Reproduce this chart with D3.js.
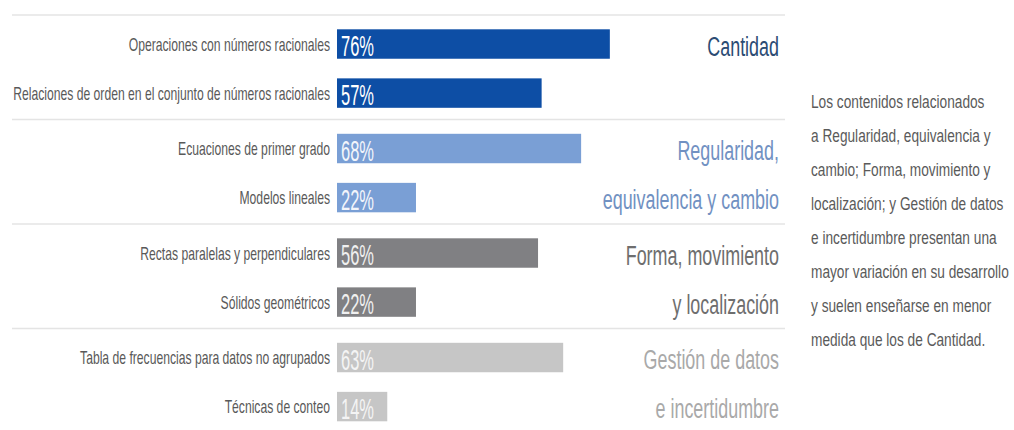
<!DOCTYPE html>
<html>
<head>
<meta charset="utf-8">
<script src="https://cdn.jsdelivr.net/npm/d3@7"></script>
<style>
  body { margin: 0; background: #fff; }
  text { font-family: "Liberation Sans", Arial, sans-serif; }
</style>
</head>
<body>
<div id="chart"></div>
<script>
const w = 1014;
const h = 430;

// data
const groups = ["Cantidad", "Regularidad", "Forma", "Gestión"];
const groupLines = [
	["Cantidad"],
	["Regularidad,", "equivalencia y cambio"],
	["Forma, movimiento", "y localización"],
	["Gestión de datos", "e incertidumbre"]
];
const contents = [
	"Operaciones con números racionales",
	"Relaciones de orden en el conjunto de números racionales",
	"Ecuaciones de primer grado",
	"Modelos lineales",
	"Rectas paralelas y perpendiculares",
	"Sólidos geométricos",
	"Tabla de frecuencias para datos no agrupados",
	"Técnicas de conteo"
];
const values = [76, 57, 68, 22, 56, 22, 63, 14];
const contentGroup = [0, 0, 1, 1, 2, 2, 3, 3];
const noteLines = [
	"Los contenidos relacionados",
	"a Regularidad, equivalencia y",
	"cambio; Forma, movimiento y",
	"localización; y Gestión de datos",
	"e incertidumbre presentan una",
	"mayor variación en su desarrollo",
	"y suelen enseñarse en menor",
	"medida que los de Cantidad."
];

// styles
const barColors = ["#0d4ea5", "#7a9fd5", "#808083", "#c6c6c6"];
const titleColors = ["#2c4c74", "#7191c2", "#6e6e6e", "#a9a9a9"];
const pctColors = ["#ffffff", "#f2f5fb", "#f0f0f0", "#f4f4f4"];

let dataset = contents.map((c, i) => ({
	label: c,
	value: values[i],
	group: contentGroup[i],
	index: contentGroup.slice(0, i).filter((g) => g === contentGroup[i]).length
}));

let svg = d3.select('#chart')
	.append('svg')
		.attr('width', w)
		.attr('height', h);

let xScale = d3.scaleLinear()
	.domain([0, 100])
	.range([337, 696]);

let groupScale = d3.scaleBand()
	.domain(groups.map((g, i) => i))
	.range([15, 433]);

let rowScale = d3.scaleBand()
	.domain([0, 1])
	.range([0, groupScale.step()])
	.paddingInner(0.4)
	.paddingOuter(0.265)
	.align(0.55);

const rowTop = (d) => groupScale(d.group) + rowScale(d.index);

// separators
svg.selectAll("line.sep")
	.data(groups)
	.enter()
	.append("line")
	.attr("class", "sep")
	.attr("x1", 12)
	.attr("x2", 785)
	.attr("y1", (d, i) => groupScale(i))
	.attr("y2", (d, i) => groupScale(i))
	.attr("stroke", "#e4e4e4")
	.attr("stroke-width", 1.5);

// bars
svg.selectAll("rect.bar")
	.data(dataset)
	.enter()
	.append("rect")
	.attr("class", "bar")
	.attr("x", xScale(0))
	.attr("y", (d) => rowTop(d))
	.attr("width", (d) => xScale(d.value) - xScale(0))
	.attr("height", rowScale.bandwidth())
	.attr("fill", (d) => barColors[d.group]);

// percentage labels
svg.selectAll("text.pct")
	.data(dataset)
	.enter()
	.append("text")
	.attr("class", "pct")
	.attr("transform", (d) => "translate(" + (xScale(0) + 4) + "," + (rowTop(d) + rowScale.bandwidth() - 2.5) + ") scale(0.55,1)")
	.attr("font-size", 30)
	.attr("fill", (d) => pctColors[d.group])
	.text((d) => d.value + "%");

// content labels
svg.selectAll("text.label")
	.data(dataset)
	.enter()
	.append("text")
	.attr("class", "label")
	.attr("transform", (d) => "translate(" + (xScale(0) - 7) + "," + (rowTop(d) + rowScale.bandwidth() / 2 + 6.5) + ") scale(0.64,1)")
	.attr("text-anchor", "end")
	.attr("font-size", 19)
	.attr("fill", "#595959")
	.text((d) => d.label);

// group titles
groupLines.forEach((lines, g) => {
	svg.append("g")
		.selectAll("text")
		.data(lines)
		.enter()
		.append("text")
		.attr("transform", (d, i) => "translate(779," + (groupScale(g) + rowScale(i) + rowScale.bandwidth() - 3) + ") scale(0.64,1)")
		.attr("text-anchor", "end")
		.attr("font-size", 28)
		.attr("fill", titleColors[g])
		.text((d) => d);
});

// note
svg.append("g")
	.selectAll("text")
	.data(noteLines)
	.enter()
	.append("text")
	.attr("transform", (d, i) => "translate(811," + (108 + i * 34) + ") scale(0.74,1)")
	.attr("font-size", 18.5)
	.attr("fill", "#5a5a5a")
	.text((d) => d);
</script>
</body>
</html>
